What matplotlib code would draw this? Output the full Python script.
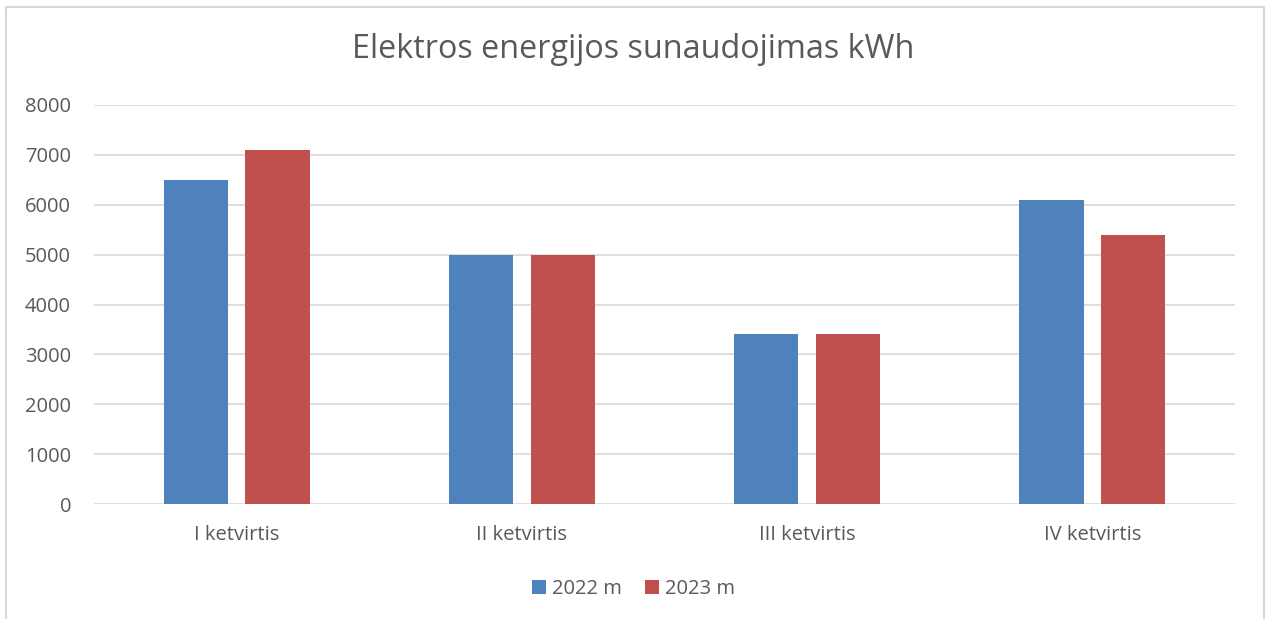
import matplotlib.pyplot as plt
import matplotlib.patches as mpatches
import numpy as np

# duomenys
categories = ['I ketvirtis', 'II ketvirtis', 'III ketvirtis', 'IV ketvirtis']
series_names = ['2022 m', '2023 m']
values_2022 = [6500, 5000, 3400, 6100]
values_2023 = [7100, 5000, 3400, 5400]
yticks = [0, 1000, 2000, 3000, 4000, 5000, 6000, 7000, 8000]

plt.rcParams['font.family'] = ['Open Sans', 'DejaVu Sans']
txt = '#595959'

W, H = 1267, 619
fig = plt.figure(figsize=(W / 100, H / 100), dpi=100)
ax = fig.add_axes([94 / W, 1 - 504 / H, (1235 - 94) / W, (504 - 105) / H])

x = np.arange(len(categories))
w = 0.225
ax.bar(x - 0.143, values_2022, w, color='#4f81bd', label=series_names[0], zorder=3)
ax.bar(x + 0.143, values_2023, w, color='#c0504d', label=series_names[1], zorder=3)

ax.set_xlim(-0.5, len(categories) - 0.5)
ax.set_ylim(0, 8000)
ax.set_yticks(yticks)
ax.set_yticklabels([str(v) for v in yticks], fontsize=14.5, color=txt)
ax.set_xticks(x)
ax.set_xticklabels(categories, fontsize=14.5, color=txt)
ax.tick_params(axis='both', length=0)
ax.tick_params(axis='y', pad=16.5)
ax.tick_params(axis='x', pad=15)
ax.grid(axis='y', color='#d9d9d9', linewidth=1.2, zorder=0)
for s in ax.spines.values():
    s.set_visible(False)

fig.text(0.5, 1 - 50 / H, 'Elektros energijos sunaudojimas kWh', ha='center', va='center',
         fontsize=23.3, color=txt)

fig.legend(loc='center', bbox_to_anchor=(0.5, 1 - 589 / H), ncol=2, frameon=False,
           fontsize=14.5, labelcolor=txt, handlelength=0.7, handleheight=0.7,
           handletextpad=0.3, columnspacing=1.1)

# rėmelis aplink diagramą
fig.patches.append(mpatches.Rectangle((6 / W, -0.05), (1264 - 6) / W, 1.05 - 7 / H,
                                      transform=fig.transFigure, fill=False,
                                      edgecolor='#d9d9d9', linewidth=1.5))

fig.savefig('out.png', dpi=100)
